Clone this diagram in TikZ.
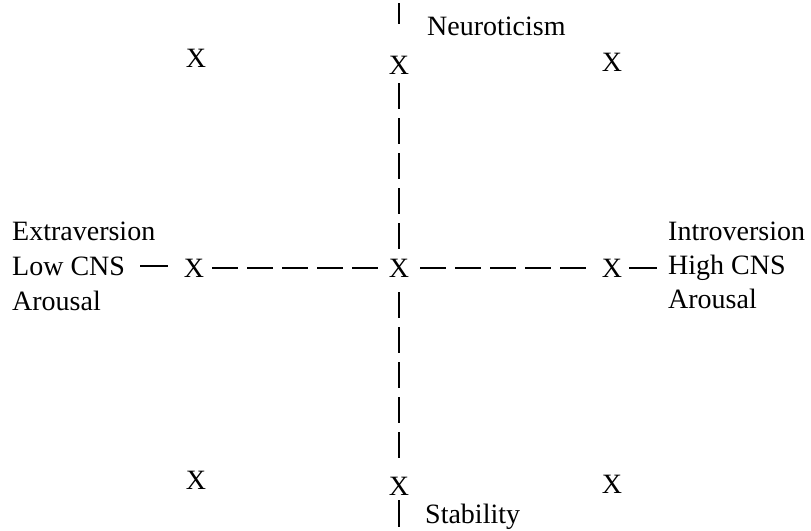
\documentclass[tikz,border=0pt]{standalone}
\usepackage{fontspec}
\setmainfont{Liberation Serif}
\usetikzlibrary{positioning}

\begin{document}
\begin{tikzpicture}[x=1pt, y=-1pt, every node/.style={font=\fontsize{28}{34}\selectfont},
  xmark/.style={inner sep=0pt}, lbl/.style={inner sep=0pt, anchor=base west},
  axis/.style={line width=2.6pt, dash pattern=on 26pt off 9pt}, stub/.style={line width=2.6pt}]
\useasboundingbox (0,0) rectangle (811,530);
% grid of X marks
\node[xmark] (tl) at (196,58) {X};
\node[xmark] (tm) at (399,65) {X};
\node[xmark] (tr) at (612,62) {X};
\node[xmark] (ml) at (194,268) {X};
\node[xmark] (mm) at (399,268) {X};
\node[xmark] (mr) at (612,268) {X};
\node[xmark] (bl) at (196,480) {X};
\node[xmark] (bm) at (399,486) {X};
\node[xmark] (br) at (612,484) {X};
% labels
\node[lbl] (neuro) at (427,35) {Neuroticism};
\node[lbl] (stab) at (425,523) {Stability};
\node[lbl] (extra) at (12,240) {Extraversion};
\node[lbl] (lowcns) at (12,275) {Low CNS};
\node[lbl] (arol) at (12,310) {Arousal};
\node[lbl] (intro) at (668,240) {Introversion};
\node[lbl] (highcns) at (668,274) {High CNS};
\node[lbl] (aror) at (668,308) {Arousal};
\coordinate (ntop) at (399,3);
\coordinate (sbot) at (399,527);
% axes
\draw[axis, shorten <=8pt, shorten >=11pt] (ml) -- (mm);
\draw[axis, shorten <=11pt, shorten >=9pt] (mm) -- (mr);
\draw[axis, shorten <=9pt, shorten >=8pt] (tm) -- (mm);
\draw[axis, shorten <=15pt, shorten >=16pt] (mm) -- (bm);
\draw[stub, shorten >=32pt] (ntop) -- (tm);
\draw[stub, shorten <=5pt] (bm) -- (sbot);
\draw[stub, shorten <=15pt, shorten >=16pt] (lowcns.east) -- (lowcns.east -| ml.west);
\draw[stub, shorten <=7pt, shorten >=11pt] (mr.east) -- (mr.east -| highcns.west);
\end{tikzpicture}
\end{document}
